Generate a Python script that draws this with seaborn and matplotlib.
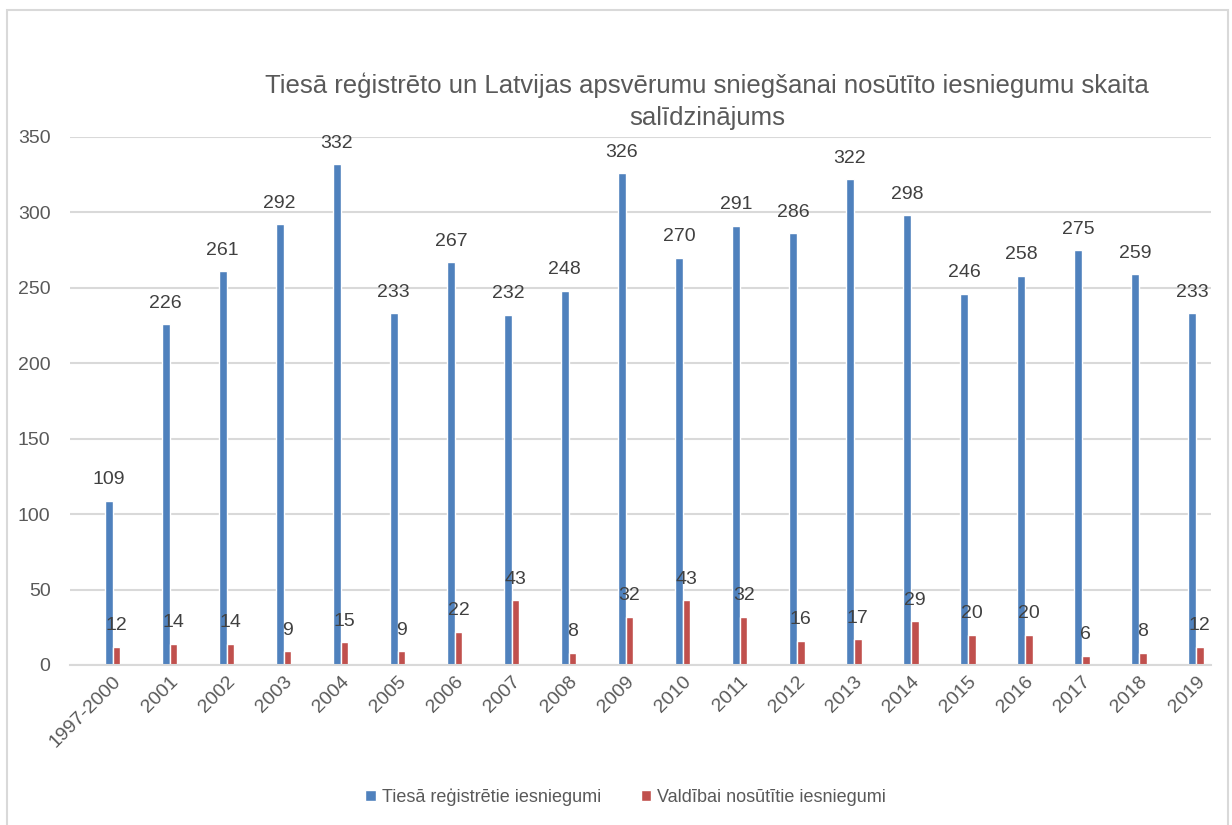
import pandas as pd
import numpy as np
import matplotlib
matplotlib.use("Agg")
import matplotlib.pyplot as plt
import seaborn as sns
from matplotlib.patches import Rectangle

years = ["1997-2000", "2001", "2002", "2003", "2004", "2005", "2006", "2007", "2008", "2009",
         "2010", "2011", "2012", "2013", "2014", "2015", "2016", "2017", "2018", "2019"]
registered = [109, 226, 261, 292, 332, 233, 267, 232, 248, 326,
              270, 291, 286, 322, 298, 246, 258, 275, 259, 233]
sent_to_gov = [12, 14, 14, 9, 15, 9, 22, 43, 8, 32,
               43, 32, 16, 17, 29, 20, 20, 6, 8, 12]
series_names = ["Tiesā reģistrētie iesniegumi", "Valdībai nosūtītie iesniegumi"]
title = "Tiesā reģistrēto un Latvijas apsvērumu sniegšanai nosūtīto iesniegumu skaita\nsalīdzinājums"

df = pd.DataFrame({
    "Gads": years * 2,
    "Skaits": registered + sent_to_gov,
    "Sērija": [series_names[0]] * len(years) + [series_names[1]] * len(years),
})

sns.set_style("white")
plt.rcParams["font.family"] = ["Liberation Sans Narrow", "Liberation Sans", "DejaVu Sans"]
text_gray = "#595959"

fig = plt.figure(figsize=(12.32, 8.25), dpi=100)
ax = fig.add_axes([0.0568, 0.194, 0.926, 0.640])

# chart border
fig.patches.append(Rectangle((7 / 1232, -0.05), 1221 / 1232, 1.05 - 10 / 825,
                             transform=fig.transFigure, fill=False,
                             edgecolor="#d9d9d9", linewidth=1.5))

sns.barplot(data=df, x="Gads", y="Skaits", hue="Sērija", order=years,
            hue_order=series_names, palette=["#4F81BD", "#C0504D"],
            width=0.27, gap=0, ax=ax, saturation=1, legend=True)

for cont in ax.containers:
    ax.bar_label(cont, padding=9, fontsize=14, color="#404040")

ax.set_ylim(0, 350)
ax.set_xlim(-0.746, 19.26)
ax.set_yticks(range(0, 351, 50))
ax.yaxis.grid(True, color="#d9d9d9", linewidth=1.5)
ax.set_axisbelow(True)
for s in ["left", "right", "top"]:
    ax.spines[s].set_visible(False)
ax.spines["bottom"].set_color("#d9d9d9")
ax.spines["bottom"].set_linewidth(1.5)
ax.tick_params(axis="y", length=0, labelsize=14, labelcolor=text_gray, pad=14)
ax.tick_params(axis="x", length=0, labelsize=14, labelcolor=text_gray, pad=6)
plt.setp(ax.get_xticklabels(), rotation=45, ha="right", rotation_mode="anchor")
ax.set_xlabel("")
ax.set_ylabel("")

fig.text(0.574, 0.877, title, ha="center", va="center", fontsize=18.5,
         color=text_gray, linespacing=1.4)

ax.legend(loc="center", bbox_to_anchor=(0.487, -0.25), ncol=2,
          frameon=False, fontsize=13, labelcolor=text_gray, handlelength=0.6,
          handleheight=0.6, columnspacing=2.2, handletextpad=0.3)

fig.savefig("out.png", dpi=100)
